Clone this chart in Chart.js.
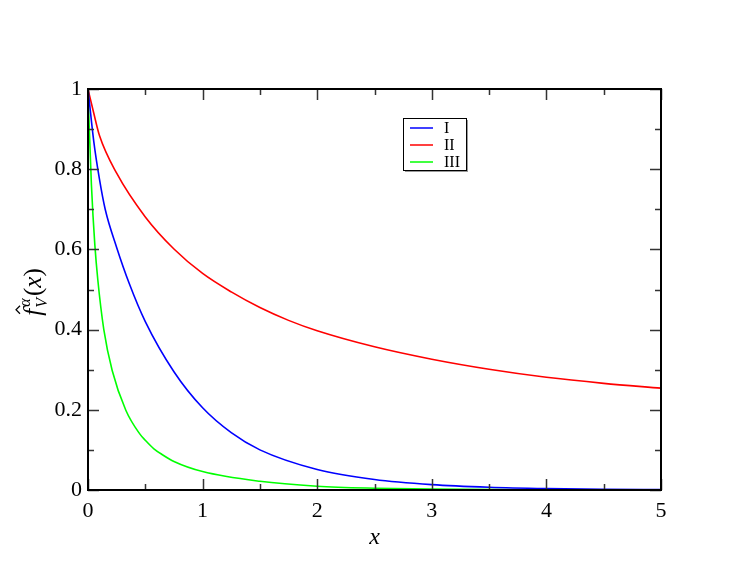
<!DOCTYPE html>
<html>
<head>
<meta charset="utf-8">
<script src="https://cdn.jsdelivr.net/npm/chart.js@4/dist/chart.umd.min.js"></script>
<style>
  html, body { margin: 0; padding: 0; background: #fff; }
  #chart { display: block; }
</style>
</head>
<body>
<canvas id="chart" width="747" height="578"></canvas>
<script>
// Curve I (blue)
const xI = [0, 0.05, 0.1, 0.15, 0.25, 0.36, 0.5, 0.75, 1.0, 1.25, 1.5, 2.0, 2.5, 3.0, 3.5, 4.0, 4.5, 5.0];
const yI = [1, 0.87, 0.775, 0.70, 0.605, 0.515, 0.42, 0.295, 0.205, 0.143, 0.10, 0.051, 0.026, 0.0133, 0.0068, 0.0035, 0.0018, 0.0009];

// Curve II (red)
const xII = [0, 0.05, 0.1, 0.25, 0.5, 0.75, 1.0, 1.25, 1.5, 1.75, 2.0, 2.5, 3.0, 3.5, 4.0, 4.5, 5.0];
const yII = [1, 0.94, 0.884, 0.79, 0.681, 0.601, 0.540, 0.494, 0.455, 0.423, 0.397, 0.357, 0.326, 0.301, 0.281, 0.266, 0.254];

// Curve III (green)
const xIII = [0, 0.01, 0.03, 0.06, 0.086, 0.138, 0.211, 0.33, 0.45, 0.5, 0.575, 0.65, 0.75, 1.0, 1.5, 2.0, 2.5, 3.0, 4.0, 5.0];
const yIII = [1, 0.91, 0.76, 0.61, 0.523, 0.40, 0.298, 0.199, 0.1405, 0.124, 0.1028, 0.0879, 0.0712, 0.046, 0.0217, 0.0095, 0.0045, 0.0022, 0.0006, 0.0002];

const seriesLabels = ['I', 'II', 'III'];
const seriesColors = ['#0000ff', '#ff0000', '#00ff00'];

const serif = "'Liberation Serif', 'DejaVu Serif', serif";

function toPoints(xs, ys) {
  return xs.map((x, i) => ({ x: x, y: ys[i] }));
}

// Frame, inward ticks, legend box and axis titles (xmgrace look)
const gracePlugin = {
  id: 'grace',
  afterDatasetsDraw(chart) {
    const ctx = chart.ctx;
    const a = chart.chartArea;
    const xs = chart.scales.x;
    const ys = chart.scales.y;
    ctx.save();

    // ticks
    ctx.strokeStyle = '#333';
    ctx.lineWidth = 1.5;
    ctx.beginPath();
    for (let i = 0; i <= 10; i++) {
      const px = Math.round(xs.getPixelForValue(i * 0.5)) + 0.5;
      const len = i % 2 === 0 ? 11 : 6;
      ctx.moveTo(px, a.bottom); ctx.lineTo(px, a.bottom - len);
      ctx.moveTo(px, a.top); ctx.lineTo(px, a.top + len);
    }
    for (let i = 0; i <= 10; i++) {
      const py = Math.round(ys.getPixelForValue(i * 0.1)) + 0.5;
      const len = i % 2 === 0 ? 11 : 6;
      ctx.moveTo(a.left, py); ctx.lineTo(a.left + len, py);
      ctx.moveTo(a.right, py); ctx.lineTo(a.right - len, py);
    }
    ctx.stroke();

    // frame
    ctx.strokeStyle = '#000';
    ctx.lineWidth = 2;
    ctx.strokeRect(a.left, a.top, a.right - a.left, a.bottom - a.top);

    // legend
    const lx = 403, ly = 118, lw = 63, lh = 52;
    ctx.fillStyle = '#999';
    ctx.fillRect(lx + 2, ly + 2, lw, lh);
    ctx.fillStyle = '#fff';
    ctx.fillRect(lx, ly, lw, lh);
    ctx.strokeStyle = '#000';
    ctx.lineWidth = 1;
    ctx.strokeRect(lx + 0.5, ly + 0.5, lw, lh);
    ctx.font = '16px ' + serif;
    ctx.textBaseline = 'middle';
    ctx.textAlign = 'left';
    chart.data.datasets.forEach((ds, i) => {
      const ry = ly + 10 + i * 17;
      ctx.strokeStyle = ds.borderColor;
      ctx.lineWidth = 1.5;
      ctx.beginPath();
      ctx.moveTo(lx + 7, ry); ctx.lineTo(lx + 30, ry);
      ctx.stroke();
      ctx.fillStyle = '#000';
      ctx.fillText(ds.label, lx + 41, ry + 1);
    });

    // x axis title
    ctx.fillStyle = '#000';
    ctx.font = 'italic 24px ' + serif;
    ctx.textAlign = 'center';
    ctx.textBaseline = 'alphabetic';
    ctx.fillText('x', (a.left + a.right) / 2, 544);

    // y axis title: f-hat with sub V and sup alpha, then (x)
    ctx.translate(41, 292);
    ctx.rotate(-Math.PI / 2);
    const big = 'italic 25px ' + serif;
    const bigR = '25px ' + serif;
    const small = 'italic 16px ' + serif;
    ctx.font = big; const wf = ctx.measureText('f').width;
    ctx.font = small; const ws = Math.max(ctx.measureText('α').width, ctx.measureText('V').width);
    ctx.font = bigR; const wp = ctx.measureText('(').width, wq = ctx.measureText(')').width;
    ctx.font = big; const wx = ctx.measureText('x').width;
    const total = wf + 2 + ws + 1 + wp + wx + wq;
    let cx = -total / 2;
    ctx.textAlign = 'left';
    ctx.font = big; ctx.fillText('f', cx, 0);
    // hat
    ctx.lineWidth = 1.2;
    ctx.strokeStyle = '#000';
    ctx.beginPath();
    ctx.moveTo(cx + 2, -21); ctx.lineTo(cx + 6, -25); ctx.lineTo(cx + 10, -21);
    ctx.stroke();
    cx += wf + 2;
    ctx.font = small;
    ctx.fillText('α', cx, -11);
    ctx.fillText('V', cx - 1, 6);
    cx += ws + 1;
    ctx.font = bigR; ctx.fillText('(', cx, 0); cx += wp;
    ctx.font = big; ctx.fillText('x', cx, 0); cx += wx;
    ctx.font = bigR; ctx.fillText(')', cx, 0);

    ctx.restore();
  }
};

const datasets = [
  { xs: xI, ys: yI },
  { xs: xII, ys: yII },
  { xs: xIII, ys: yIII }
].map((s, i) => ({
  label: seriesLabels[i],
  data: toPoints(s.xs, s.ys),
  borderColor: seriesColors[i],
  backgroundColor: seriesColors[i],
  borderWidth: 1.6,
  pointRadius: 0,
  fill: false,
  cubicInterpolationMode: 'monotone'
}));

new Chart(document.getElementById('chart').getContext('2d'), {
  type: 'line',
  data: { datasets: datasets },
  options: {
    responsive: false,
    animation: false,
    layout: { padding: { top: 89, right: 86, left: 0, bottom: 0 } },
    plugins: {
      legend: { display: false },
      tooltip: { enabled: false }
    },
    scales: {
      x: {
        type: 'linear',
        min: 0,
        max: 5,
        grid: { display: false, drawTicks: false },
        border: { display: false },
        ticks: {
          stepSize: 1,
          padding: 8,
          color: '#000',
          font: { family: serif, size: 22 }
        },
        afterFit(scale) { scale.height = 88; }
      },
      y: {
        type: 'linear',
        min: 0,
        max: 1,
        grid: { display: false, drawTicks: false },
        border: { display: false },
        ticks: {
          stepSize: 0.2,
          padding: 6,
          color: '#000',
          font: { family: serif, size: 22 },
          callback: value => String(parseFloat(value.toFixed(1)))
        },
        afterFit(scale) { scale.width = 88; }
      }
    }
  },
  plugins: [gracePlugin]
});
</script>
</body>
</html>
